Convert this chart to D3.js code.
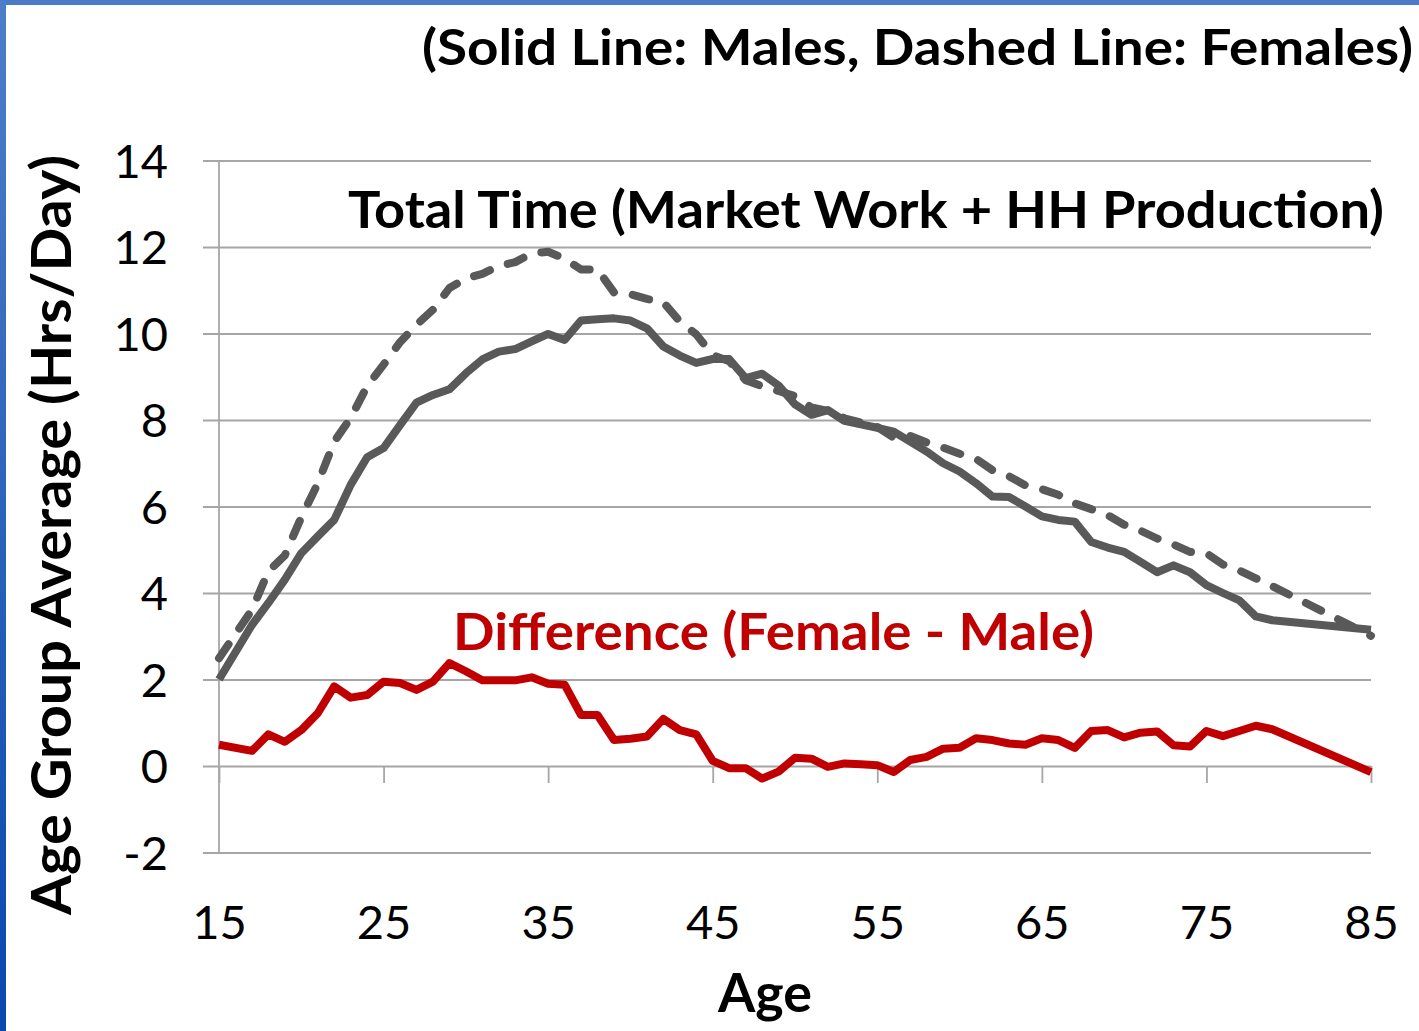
<!DOCTYPE html>
<html>
<head>
<meta charset="utf-8">
<script src="https://cdn.jsdelivr.net/npm/d3@7"></script>
<style>
    html, body { margin: 0; padding: 0; background: #fff; }
    svg text { font-family: Lato, "Open Sans", sans-serif; fill: #000; }
</style>
</head>
<body>
<div id="chart"></div>
<script>
// age groups (x) and hours/day for each series
var ages = [15, 17, 18, 19, 20,
    21, 22, 23, 24, 25, 26, 27, 28, 29, 30,
    31, 32, 33, 34, 35, 36, 37, 38, 39, 40,
    41, 42, 43, 44, 45, 46, 47, 48, 49, 50,
    51, 52, 53, 54, 55, 56, 57, 58, 59, 60,
    61, 62, 63, 64, 65, 66, 67, 68, 69, 70,
    71, 72, 73, 74, 75, 76, 77, 78, 79, 85];
var maleHours = [2.00, 3.26, 3.77, 4.31, 4.92,
    5.31, 5.69, 6.50, 7.14, 7.35, 7.88, 8.40, 8.58, 8.71, 9.08,
    9.40, 9.58, 9.64, 9.82, 9.99, 9.85, 10.30, 10.33, 10.35, 10.30,
    10.12, 9.70, 9.49, 9.32, 9.41, 9.41, 8.97, 9.07, 8.80, 8.36,
    8.12, 8.23, 7.98, 7.90, 7.82, 7.73, 7.50, 7.27, 7.00, 6.81,
    6.54, 6.23, 6.22, 6.00, 5.77, 5.69, 5.65, 5.18, 5.05, 4.95,
    4.72, 4.48, 4.64, 4.48, 4.18, 4.00, 3.83, 3.46, 3.37, 3.15];
var femaleHours = [2.49, 3.61, 4.50, 4.87, 5.75,
    6.53, 7.50, 8.05, 8.78, 9.28, 9.80, 10.20, 10.55, 11.05, 11.27,
    11.38, 11.56, 11.65, 11.85, 11.89, 11.73, 11.48, 11.48, 10.95, 10.91,
    10.80, 10.72, 10.28, 9.98, 9.50, 9.36, 8.92, 8.78, 8.67, 8.55,
    8.29, 8.21, 8.04, 7.94, 7.84, 7.59, 7.63, 7.48, 7.36, 7.22,
    7.10, 6.84, 6.70, 6.49, 6.40, 6.27, 6.07, 5.94, 5.80, 5.58,
    5.44, 5.26, 5.12, 4.95, 4.92, 4.66, 4.52, 4.34, 4.16, 3.01];
var diffHours = [0.49, 0.35, 0.73, 0.56, 0.83,
    1.22, 1.84, 1.58, 1.64, 1.95, 1.92, 1.76, 1.95, 2.38, 2.19,
    1.98, 1.98, 1.98, 2.05, 1.90, 1.88, 1.18, 1.18, 0.60, 0.63,
    0.68, 1.09, 0.83, 0.73, 0.12, -0.05, -0.05, -0.29, -0.13, 0.19,
    0.17, -0.02, 0.06, 0.04, 0.02, -0.14, 0.14, 0.21, 0.40, 0.42,
    0.64, 0.60, 0.52, 0.49, 0.64, 0.60, 0.42, 0.81, 0.83, 0.66,
    0.77, 0.80, 0.48, 0.45, 0.81, 0.69, 0.81, 0.93, 0.85, -0.14];
var xTicks = [15, 25, 35, 45, 55, 65, 75, 85];
var yTicks = [-2, 0, 2, 4, 6, 8, 10, 12, 14];

var attrs = {
    width: 1419,
    height: 1031,
    margin: { top: 160.5, right: 48, bottom: 178.5, left: 219 },
    gridColor: "#a6a6a6",
    greyColor: "#595959",
    redColor: "#c00000",
    lineWidth: 8,
    tickOut: 16,
    labelSize: 47
};
var _drawWidth = attrs.width - attrs.margin.left - attrs.margin.right;
var _drawHeight = attrs.height - attrs.margin.top - attrs.margin.bottom;

var svg = d3.select("#chart").append("svg")
    .attr("width", attrs.width)
    .attr("height", attrs.height);

// blue frame on the left and top edges
var grad = svg.append("defs").append("linearGradient")
    .attr("id", "frameGrad")
    .attr("x1", 0).attr("y1", 0).attr("x2", 0).attr("y2", 1);
grad.append("stop").attr("offset", "0%").attr("stop-color", "#4d7ec9");
grad.append("stop").attr("offset", "100%").attr("stop-color", "#0a47ad");
svg.append("rect").attr("x", 0).attr("y", 0).attr("width", attrs.width).attr("height", 5).style("fill", "#4a7bc6");
svg.append("rect").attr("x", 0).attr("y", 0).attr("width", 6).attr("height", attrs.height).style("fill", "url(#frameGrad)");

var x = d3.scaleLinear().domain([15, 85]).range([0, _drawWidth]);
var y = d3.scaleLinear().domain([-2, 14]).range([_drawHeight, 0]);

// plain hyphen for negatives, like the original
var plainNum = function(d) { return String(d); };

var g = svg.append("g")
    .attr("transform", "translate(" + attrs.margin.left + "," + attrs.margin.top + ")");

// horizontal gridlines + y labels
var yAxis = g.append("g")
    .attr("transform", "translate(" + (-attrs.tickOut) + ",0)")
    .call(d3.axisLeft(y).tickValues(yTicks)
        .tickSize(-(_drawWidth + attrs.tickOut))
        .tickPadding(35)
        .tickFormat(plainNum));
yAxis.select(".domain").remove();
yAxis.selectAll("line").style("stroke", attrs.gridColor).style("stroke-width", 1.8);
yAxis.selectAll("text")
    .style("font-size", attrs.labelSize + "px")
    .style("fill", "#000")
    .attr("dy", "0.36em");

// vertical axis line
g.append("line")
    .attr("x1", 0).attr("x2", 0)
    .attr("y1", 0).attr("y2", _drawHeight)
    .style("stroke", attrs.gridColor).style("stroke-width", 1.8);

// x axis ticks sit on the zero line
var xAxis = g.append("g")
    .attr("transform", "translate(0," + y(0) + ")")
    .call(d3.axisBottom(x).tickValues(xTicks).tickSize(17).tickFormat(""));
xAxis.select(".domain").remove();
xAxis.selectAll("line").style("stroke", attrs.gridColor).style("stroke-width", 1.8);

// x labels sit below the plot
var xLabels = g.append("g")
    .attr("transform", "translate(0," + _drawHeight + ")")
    .call(d3.axisBottom(x).tickValues(xTicks).tickSize(0).tickPadding(53).tickFormat(plainNum));
xLabels.select(".domain").remove();
xLabels.selectAll("text")
    .style("font-size", attrs.labelSize + "px")
    .style("fill", "#000");

// series
function lineFor(values) {
    return d3.line()
        .x(function(d, i) { return x(ages[i]); })
        .y(function(d) { return y(d); })(values);
}

g.append("path")
    .attr("d", lineFor(maleHours))
    .style("fill", "none")
    .style("stroke", attrs.greyColor)
    .style("stroke-width", attrs.lineWidth)
    .style("stroke-linejoin", "round");

g.append("path")
    .attr("d", lineFor(femaleHours))
    .style("fill", "none")
    .style("stroke", attrs.greyColor)
    .style("stroke-width", attrs.lineWidth)
    .style("stroke-linejoin", "round")
    .style("stroke-linecap", "round")
    .style("stroke-dasharray", "17 19");

g.append("path")
    .attr("d", lineFor(diffHours))
    .style("fill", "none")
    .style("stroke", attrs.redColor)
    .style("stroke-width", attrs.lineWidth)
    .style("stroke-linejoin", "round");

// text labels
function label(txt, px, py, size, len, anchor, color) {
    return svg.append("text")
        .attr("x", px).attr("y", py)
        .attr("text-anchor", anchor)
        .attr("textLength", len)
        .attr("lengthAdjust", "spacingAndGlyphs")
        .style("font-size", size + "px")
        .style("font-weight", "bold")
        .style("fill", color || "#000")
        .text(txt);
}

label("(Solid Line: Males, Dashed Line: Females)", 1413, 65, 50, 991, "end");
label("Total Time (Market Work + HH Production)", 348, 228, 52, 1036, "start");
label("Difference (Female - Male)", 453, 650, 52, 641, "start", attrs.redColor);
label("Age", 765, 1012, 54, 94, "middle");

svg.append("text")
    .attr("transform", "translate(71,535) rotate(-90)")
    .attr("text-anchor", "middle")
    .attr("textLength", 760)
    .attr("lengthAdjust", "spacingAndGlyphs")
    .style("font-size", "55px")
    .style("font-weight", "bold")
    .text("Age Group Average (Hrs/Day)");
</script>
</body>
</html>
